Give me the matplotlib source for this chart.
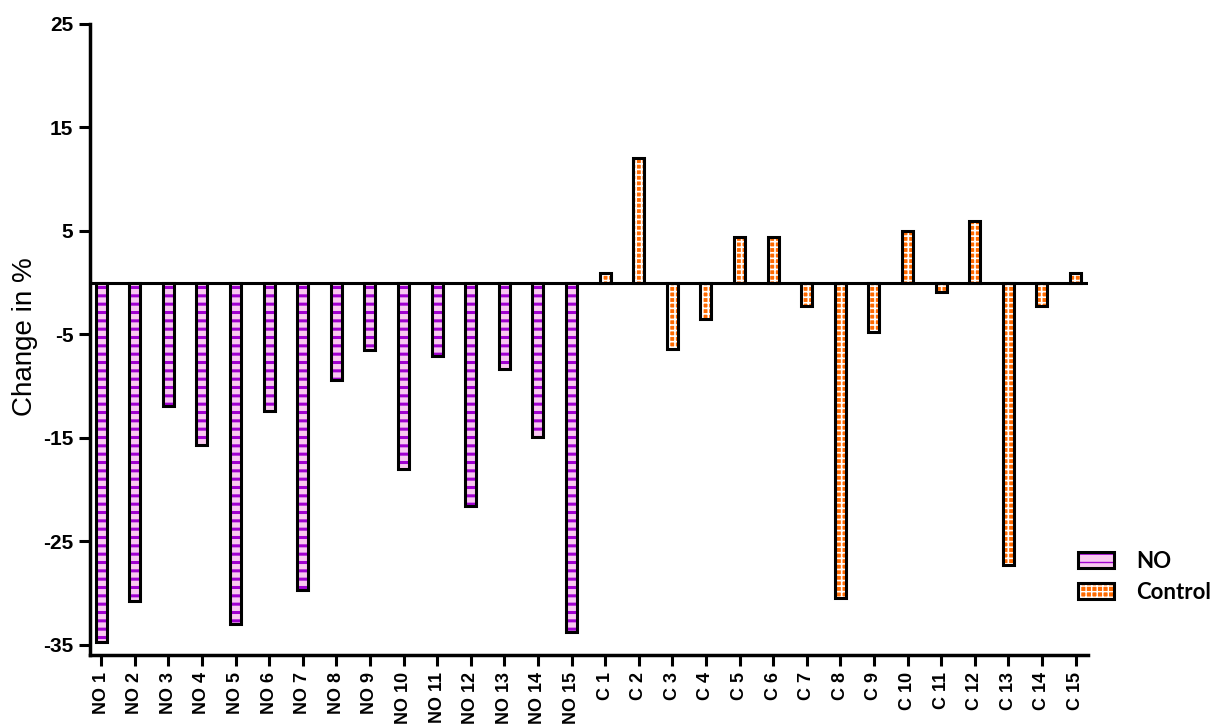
import numpy as np
import matplotlib.pyplot as plt
from matplotlib.patches import Patch
from matplotlib.legend_handler import HandlerTuple

plt.rcParams['font.family'] = ['Liberation Sans', 'DejaVu Sans']
plt.rcParams['axes.unicode_minus'] = False

no_labels = ["NO %d" % i for i in range(1, 16)]
c_labels = ["C %d" % i for i in range(1, 16)]
no_values = [-34.7, -30.8, -11.9, -15.7, -33.0, -12.4, -29.7, -9.4, -6.5,
             -18.0, -7.1, -21.6, -8.4, -14.9, -33.8]
c_values = [0.9, 12.0, -6.4, -3.5, 4.4, 4.4, -2.3, -30.5, -4.8, 5.0,
            -0.9, 6.0, -27.3, -2.3, 0.9]

labels = no_labels + c_labels
x = np.arange(len(labels))
x_no = x[:15]
x_c = x[15:]
w = 0.33

NO_FACE, NO_STRIPE = '#f9c8f0', '#a000d0'
C_FACE, C_GRID = '#ff6a00', 'white'

fig = plt.figure(figsize=(12.23, 7.24), dpi=100)
ax = fig.add_axes([0.0736, 0.0953, 0.816, 0.8716])

# fills with hatching (hatch takes edge colour), then black outlines on top
with plt.rc_context({'hatch.linewidth': 2.2}):
    ax.bar(x_no, no_values, w, color=NO_FACE, edgecolor=NO_STRIPE, hatch='--', linewidth=0)
    h_no = (Patch(facecolor=NO_FACE, edgecolor=NO_STRIPE, hatch='--', linewidth=0),
            Patch(fill=False, edgecolor='black', linewidth=2.2))
with plt.rc_context({'hatch.linewidth': 1.2}):
    ax.bar(x_c, c_values, w, color=C_FACE, edgecolor=C_GRID, hatch='+++', linewidth=0)
    h_c = (Patch(facecolor=C_FACE, edgecolor=C_GRID, hatch='+++', linewidth=0),
           Patch(fill=False, edgecolor='black', linewidth=2.2))
ax.bar(x, no_values + c_values, w, fill=False, edgecolor='black', linewidth=2.2, zorder=3)
ax.axhline(0, color='black', linewidth=2.2, zorder=4)

ax.set_xlim(-0.33, 29.37)
ax.set_ylim(-36, 25)
ax.set_yticks([25, 15, 5, -5, -15, -25, -35])
ax.set_xticks(x)
ax.set_xticklabels(labels, rotation=90, fontsize=13, fontweight='bold')
for t in ax.get_yticklabels():
    t.set_fontsize(15)
    t.set_fontweight('bold')
ax.tick_params(axis='both', length=8, width=2.2, pad=4)
for s in ['top', 'right']:
    ax.spines[s].set_visible(False)
for s in ['left', 'bottom']:
    ax.spines[s].set_linewidth(2.5)
ax.set_ylabel("Change in %", fontsize=20)
ax.yaxis.set_label_coords(-0.052, 0.505)

fig.legend([h_no, h_c], ["NO", "Control"], handler_map={tuple: HandlerTuple(ndivide=1)},
           loc='upper left', bbox_to_anchor=(1058 / 1223, 1 - 531 / 724),
           frameon=False, prop={'family': 'Lato', 'weight': 'bold', 'size': 16},
           handlelength=1.6, handleheight=0.7, handletextpad=1.0, labelspacing=0.45)

fig.savefig("out.png", dpi=100)
